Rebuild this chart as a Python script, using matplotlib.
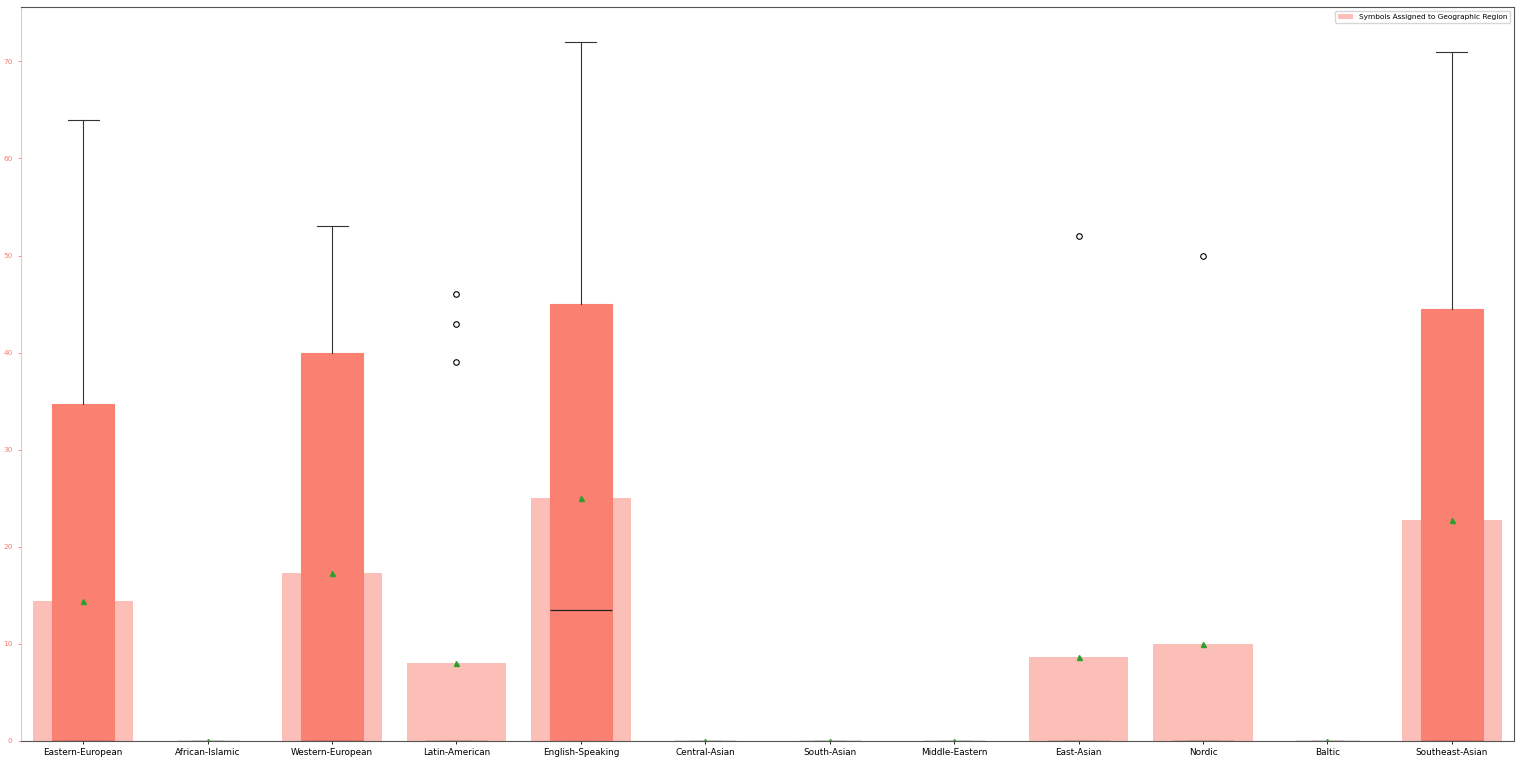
import matplotlib
matplotlib.use("Agg")
import matplotlib.pyplot as plt
import numpy as np

# region categories and box statistics
regions = ["Eastern-European", "African-Islamic", "Western-European", "Latin-American",
           "English-Speaking", "Central-Asian", "South-Asian", "Middle-Eastern",
           "East-Asian", "Nordic", "Baltic", "Southeast-Asian"]
q1 = [0, 0, 0, 0, 0, 0, 0, 0, 0, 0, 0, 0]
median = [0, 0, 0, 0, 13.5, 0, 0, 0, 0, 0, 0, 0]
q3 = [34.7, 0, 40.0, 0, 45.0, 0, 0, 0, 0, 0, 0, 44.5]
whisker_hi = [64, 0, 53, 0, 72, 0, 0, 0, 0, 0, 0, 71]
outliers = [[], [], [], [39, 43, 46], [], [], [], [], [52], [50], [], []]
means = [14.4, 0, 17.3, 8.0, 25.0, 0, 0, 0, 8.7, 10.0, 0, 22.8]

salmon = "#FA8072"

fig = plt.figure(figsize=(15.22, 7.61), dpi=100)
ax = fig.add_axes([0.0138, 0.0263, 0.981, 0.9645])

pos = np.arange(len(regions))

# means as pale bars in the background
ax.bar(pos, means, width=0.8, color=salmon, alpha=0.5,
       label="Symbols Assigned to Geographic Region", zorder=1)

stats = []
for i in range(len(regions)):
    stats.append(dict(med=median[i], q1=q1[i], q3=q3[i], whislo=q1[i],
                      whishi=whisker_hi[i], fliers=outliers[i], mean=means[i]))

ax.bxp(stats, positions=pos, widths=0.5, patch_artist=True, showmeans=True,
       boxprops=dict(facecolor=salmon, edgecolor=salmon, linewidth=0.8),
       medianprops=dict(color="#222222", linewidth=0.9),
       whiskerprops=dict(color="#333333", linewidth=0.8),
       capprops=dict(color="#333333", linewidth=0.8),
       flierprops=dict(marker="o", markerfacecolor="none", markeredgecolor="black",
                       markersize=4, markeredgewidth=0.8),
       meanprops=dict(marker="^", markerfacecolor="#2ca02c", markeredgecolor="#2ca02c",
                      markersize=3.6),
       zorder=2)

ax.set_xlim(-0.5, 11.5)
ax.set_ylim(0, 75.6)
ax.set_xticks(pos)
ax.set_xticklabels(regions, fontsize=6.4)
ax.set_yticks(np.arange(0, 80, 10))
ax.tick_params(axis="y", labelsize=5.3, colors=salmon, length=2.5, width=0.6)
ax.tick_params(axis="x", length=2.5, width=0.6, pad=2.5)
ax.spines["left"].set_color(salmon)
ax.spines["left"].set_alpha(0.5)
for s in ["top", "right", "bottom"]:
    ax.spines[s].set_linewidth(0.8)
    ax.spines[s].set_color("#555555")

ax.legend(loc="upper right", fontsize=5.3)

plt.savefig("out.png", dpi=100)
